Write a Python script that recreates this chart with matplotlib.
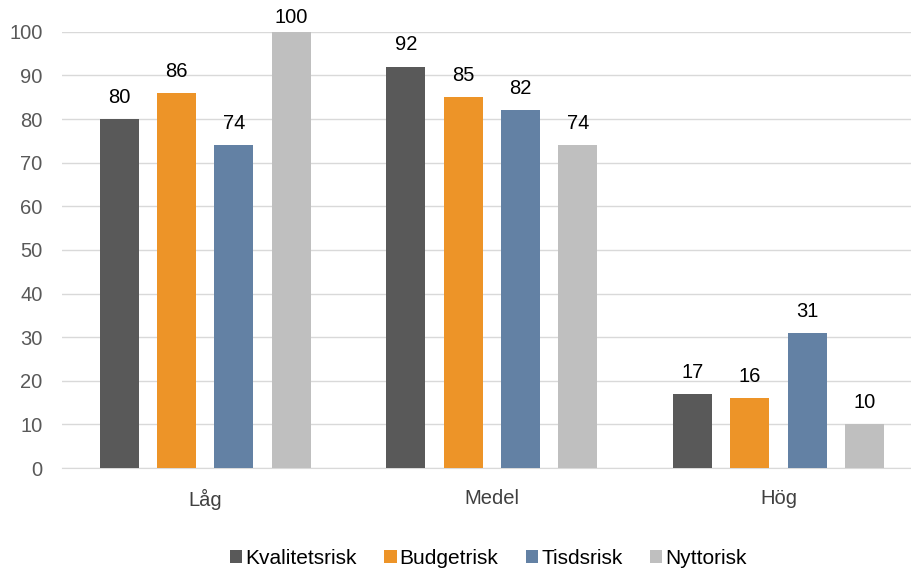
import numpy as np
import matplotlib.pyplot as plt

plt.rcParams['font.family'] = ['Liberation Sans', 'DejaVu Sans']

kategorier = ['Låg', 'Medel', 'Hög']
serier = ['Kvalitetsrisk', 'Budgetrisk', 'Tisdsrisk', 'Nyttorisk']
kvalitet = [80, 92, 17]
budget = [86, 85, 16]
tid = [74, 82, 31]
nytta = [100, 74, 10]
farger = ['#595959', '#ED9428', '#6381A4', '#BFBFBF']

fig = plt.figure(figsize=(9.11, 5.68), dpi=100)
# diagramytan fortsätter lite utanför bildens högerkant
ax = fig.add_axes([0.068, 0.176, 0.944, 0.768])

x = np.arange(len(kategorier))
bredd = 0.136
steg = 0.2
for i, (namn, varden) in enumerate(zip(serier, [kvalitet, budget, tid, nytta])):
    pos = x + (i - 1.5) * steg
    ax.bar(pos, varden, bredd, color=farger[i], label=namn, zorder=3)
    for p, v in zip(pos, varden):
        # etiketter hålls kvar innanför diagramytan
        ax.text(p, min(v + 2.8, 101.2), str(v), ha='center', va='bottom',
                fontsize=14.5, color='black')

ax.set_xlim(-0.5, 2.5)
ax.set_ylim(0, 100)
ax.set_yticks(range(0, 101, 10))
ax.grid(axis='y', color='#D9D9D9', linewidth=1, zorder=0)
for s in ['top', 'right', 'left']:
    ax.spines[s].set_visible(False)
ax.spines['bottom'].set_color('#D9D9D9')
ax.tick_params(axis='y', length=0, labelsize=14.5, labelcolor='#595959', pad=14)
ax.tick_params(axis='x', length=0, labelsize=14.5, labelcolor='#404040', pad=15)
ax.set_xticks(x)
ax.set_xticklabels(kategorier)

fig.legend(loc='lower center', bbox_to_anchor=(0.536, -0.033), ncol=4, frameon=False,
           fontsize=15, handlelength=0.6, handleheight=0.6, handletextpad=0.15,
           columnspacing=1.3)

fig.savefig('out.png', dpi=100)
